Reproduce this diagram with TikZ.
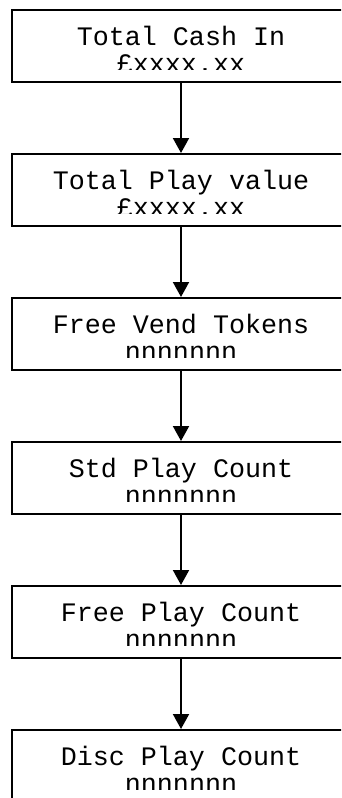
\documentclass[tikz,border=0pt]{standalone}
\usepackage{fontspec}
\setmonofont{Liberation Mono}
\usetikzlibrary{arrows.meta}
\tikzset{
  cntbox/.style={draw,line width=2pt,minimum width=338pt,minimum height=72pt,inner sep=0pt},
  cnttxt/.style={anchor=base,inner sep=0pt,font=\ttfamily\fontsize{26.7}{27}\selectfont},
  cntname/.style={cnttxt,text depth=0pt},
  cntval/.style={cnttxt,text height=12pt,text depth=0pt},
  flow/.style={line width=2pt,-{Triangle[width=16pt,length=15pt]}}
}
\begin{document}
\begin{tikzpicture}[x=1pt,y=1pt]
    \useasboundingbox (0,0) rectangle (341,-798);
    \clip (0,0) rectangle (341,-798);
    % boxes
    \node[cntbox] (cash)  at (181,-46)  {};
    \node[cntbox] (play)  at (181,-190) {};
    \node[cntbox] (vend)  at (181,-334) {};
    \node[cntbox] (std)   at (181,-478) {};
    \node[cntbox] (free)  at (181,-622) {};
    \node[cntbox] (disc)  at (181,-766) {};
    % names
    \node[cntname] (cashname) at (181,-45)  {Total Cash In};
    \node[cntname] (playname) at (181,-189) {Total Play value};
    \node[cntname] (vendname) at (181,-333) {Free Vend Tokens};
    \node[cntname] (stdname)  at (181,-477) {Std Play Count};
    \node[cntname] (freename) at (181,-621) {Free Play Count};
    \node[cntname] (discname) at (181,-765) {Disc Play Count};
    % values, cut just above the base line
    \begin{scope}
      \clip (0,-10)  rectangle (341,-69)  (0,-154) rectangle (341,-213)
            (0,-298) rectangle (341,-357) (0,-442) rectangle (341,-501)
            (0,-586) rectangle (341,-645) (0,-730) rectangle (341,-789);
      \node[cntval] (cashval) at (181,-72)  {£xxxx.xx};
      \node[cntval] (playval) at (181,-216) {£xxxx.xx};
      \node[cntval] (vendval) at (181,-360) {nnnnnnn};
      \node[cntval] (stdval)  at (181,-504) {nnnnnnn};
      \node[cntval] (freeval) at (181,-648) {nnnnnnn};
      \node[cntval] (discval) at (181,-792) {nnnnnnn};
    \end{scope}
    % arrows
    \draw[flow] (cash) -- (play);
    \draw[flow] (play) -- (vend);
    \draw[flow] (vend) -- (std);
    \draw[flow] (std)  -- (free);
    \draw[flow] (free) -- (disc);
\end{tikzpicture}
\end{document}
